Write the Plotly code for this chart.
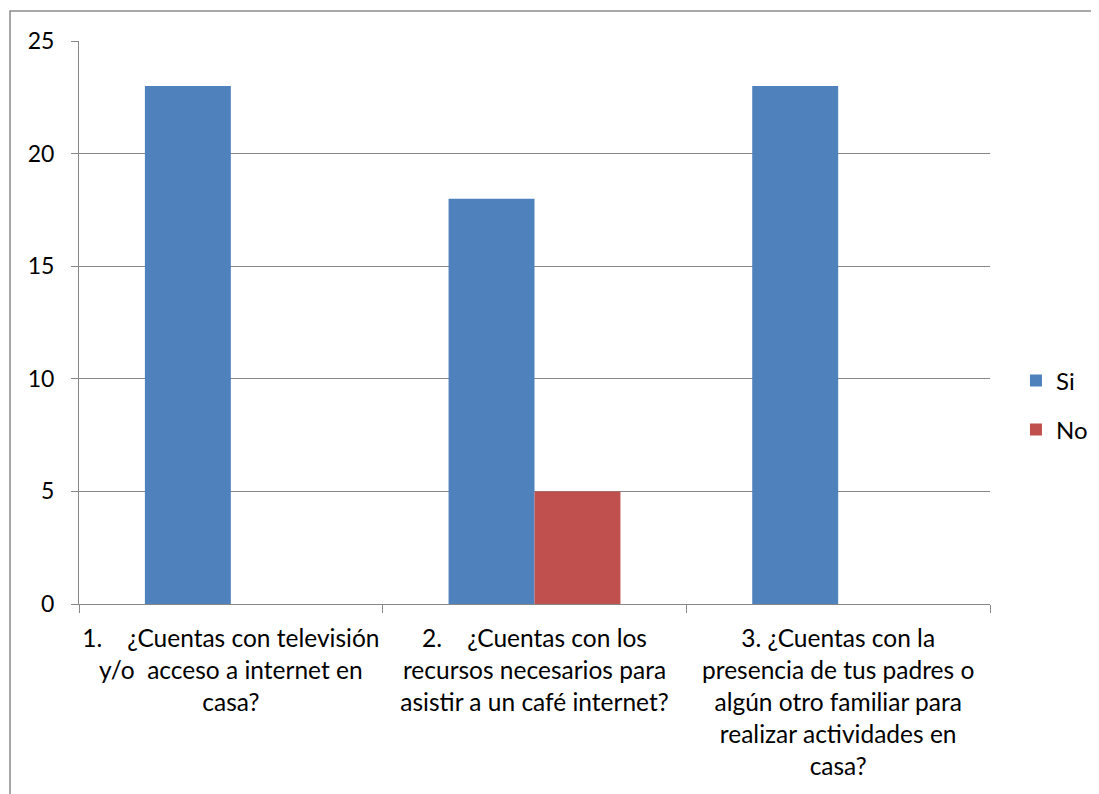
import plotly.graph_objects as go

categories = [
    "1.\u00a0\u00a0\u00a0\u00a0¿Cuentas con televisión<br>y/o\u00a0\u00a0acceso a internet en<br>casa?",
    "2.\u00a0\u00a0\u00a0\u00a0¿Cuentas con los<br>recursos necesarios para<br>asistir a un café internet?",
    "3. ¿Cuentas con la<br>presencia de tus padres o<br>algún otro familiar para<br>realizar actividades en<br>casa?",
]
si_values = [23, 18, 23]
no_values = [0, 5, 0]
y_ticks = [0, 5, 10, 15, 20, 25]

FONT = "Lato"
GRID = "#878787"

# page has an 8px body offset; plot area 911x563 at page (79, 41)
L, T, PW, PH = 71, 33, 911, 563

fig = go.Figure()
fig.add_trace(go.Bar(name="Si", x=categories, y=si_values, showlegend=True,
                     marker=dict(color="#4F81BD", line=dict(width=0)), legend="legend"))
fig.add_trace(go.Bar(name="No", x=categories, y=no_values, showlegend=True,
                     marker=dict(color="#C0504D", line=dict(width=0)), legend="legend2"))

fig.update_layout(
    width=1099, height=794,
    margin=dict(l=L, r=1099 - L - PW, t=T, b=794 - T - PH, autoexpand=False),
    paper_bgcolor="white", plot_bgcolor="white",
    font=dict(family=FONT, size=23, color="#000000"),
    barmode="group", bargap=0.434, bargroupgap=0,
    showlegend=True,
    legend=dict(x=1.0285, y=(604 - 381) / 563, xanchor="left", yanchor="middle",
                font=dict(size=24), bgcolor="rgba(0,0,0,0)"),
    legend2=dict(x=1.0285, y=(604 - 430) / 563, xanchor="left", yanchor="middle",
                 font=dict(size=24), bgcolor="rgba(0,0,0,0)"),
    xaxis=dict(
        showline=True, linecolor=GRID, linewidth=1,
        ticks="outside", tickson="boundaries", ticklen=8, tickcolor=GRID,
        showgrid=False, ticklabelstandoff=13, tickangle=0,
        tickfont=dict(size=24.5),
    ),
    yaxis=dict(
        range=[0, 25], tickvals=y_ticks,
        showline=True, linecolor=GRID, linewidth=1,
        ticks="outside", ticklen=7, tickcolor=GRID,
        showgrid=True, gridcolor=GRID, gridwidth=1,
        zeroline=False, ticklabelstandoff=12,
        tickfont=dict(size=23),
    ),
    shapes=[dict(type="rect", xref="paper", yref="paper",
                 x0=(10 - 79) / 911, x1=(1130 - 79) / 911,
                 y0=(604 - 830) / 563, y1=(604 - 11) / 563,
                 line=dict(color="#8C8C8C", width=1.5), fillcolor="rgba(0,0,0,0)", layer="below")],
)

fig.write_html("out.html")
